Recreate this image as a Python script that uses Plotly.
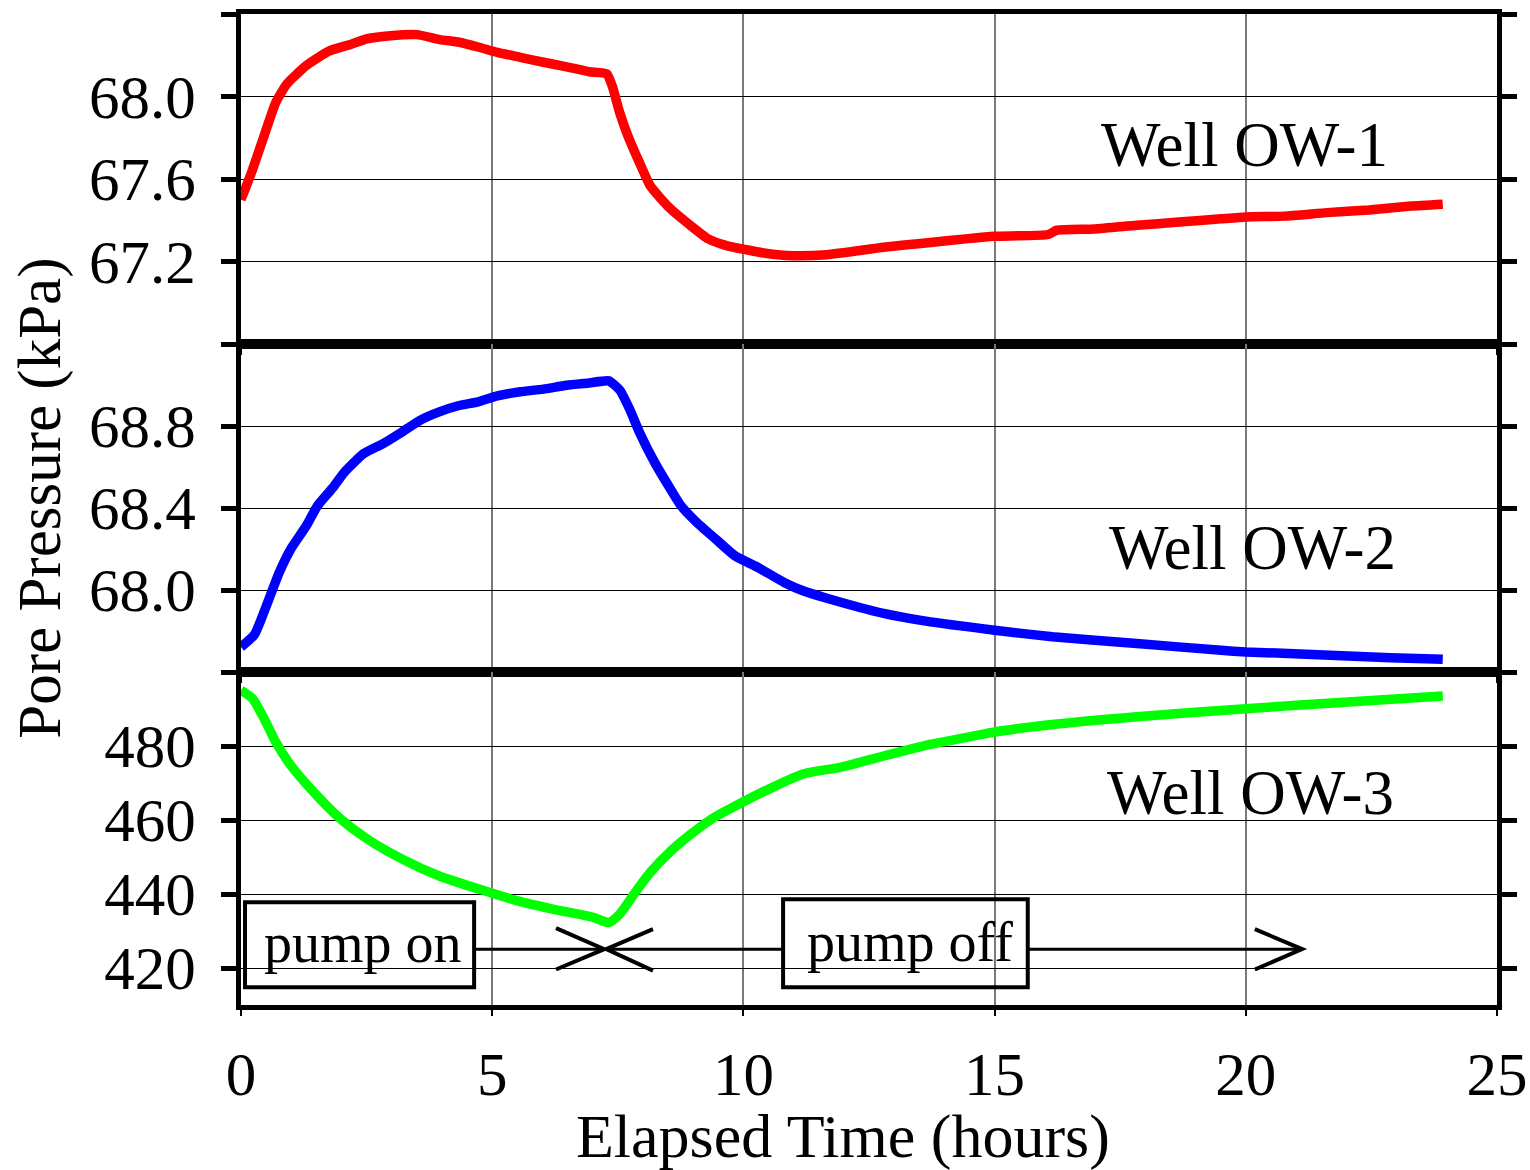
import plotly.graph_objects as go
from plotly.subplots import make_subplots

# ---------------- data ----------------
t_ow1 = [0.0, 0.23, 0.46, 0.69, 0.91, 1.30, 1.75, 2.21, 2.51, 2.97, 3.50, 3.96, 4.34, 4.72,
         5.10, 5.56, 6.02, 6.48, 6.93, 7.28, 7.39, 7.54, 7.70, 7.93, 8.15, 8.53, 8.92, 9.30,
         9.68, 10.06, 10.44, 10.98, 11.66, 12.79, 13.63, 14.47, 15.0, 16.07, 16.24, 16.99,
         17.83, 18.67, 19.51, 20.0, 20.77, 21.61, 22.45, 23.29, 23.92]
p_ow1 = [67.50, 67.646, 67.81, 67.97, 68.06, 68.15, 68.22, 68.255, 68.28, 68.295, 68.30,
         68.276, 68.263, 68.24, 68.214, 68.19, 68.166, 68.144, 68.12, 68.11, 68.05, 67.92,
         67.81, 67.68, 67.565, 67.46, 67.38, 67.31, 67.276, 67.257, 67.24, 67.228, 67.233,
         67.269, 67.29, 67.311, 67.322, 67.331, 67.352, 67.358, 67.376, 67.391, 67.407,
         67.416, 67.42, 67.437, 67.45, 67.469, 67.478]

t_ow2 = [0.0, 0.27, 0.50, 0.76, 0.99, 1.30, 1.52, 1.83, 2.06, 2.44, 2.82, 3.20, 3.58, 3.96,
         4.34, 4.72, 5.10, 5.56, 6.02, 6.48, 6.93, 7.32, 7.54, 7.73, 7.93, 8.23, 8.53, 8.76,
         9.07, 9.45, 9.83, 10.29, 10.82, 11.20, 11.66, 12.79, 13.63, 15.0, 16.15, 17.83,
         19.51, 20.0, 21.2, 22.88, 23.92]
p_ow2 = [67.722, 67.783, 67.92, 68.085, 68.20, 68.313, 68.41, 68.50, 68.575, 68.665, 68.713,
         68.77, 68.83, 68.87, 68.90, 68.918, 68.947, 68.967, 68.98, 68.999, 69.01, 69.02,
         68.975, 68.885, 68.77, 68.624, 68.50, 68.41, 68.33, 68.248, 68.167, 68.11, 68.036,
         67.995, 67.96, 67.886, 67.848, 67.804, 67.772, 67.739, 67.706, 67.698, 67.687,
         67.67, 67.662]

t_ow3 = [0.0, 0.23, 0.46, 0.69, 0.99, 1.45, 1.98, 2.51, 3.20, 3.96, 4.72, 5.49, 6.25, 7.01,
         7.32, 7.54, 7.85, 8.15, 8.53, 8.92, 9.37, 9.98, 10.59, 11.20, 11.95, 12.79, 13.63,
         14.47, 15.0, 16.15, 17.83, 20.0, 22.03, 23.92]
p_ow3 = [495.1, 492.8, 487.4, 481.1, 474.8, 467.5, 460.3, 454.9, 449.5, 444.8, 441.4, 438.2,
         435.8, 433.7, 432.3, 434.6, 440.5, 445.9, 451.3, 455.8, 460.3, 464.8, 468.9, 472.5,
         474.3, 477.3, 480.2, 482.4, 483.8, 485.8, 487.9, 490.1, 491.9, 493.5]

x_ticks = [0, 5, 10, 15, 20, 25]
y1_ticks = [66.8, 67.2, 67.6, 68.0, 68.4]
y1_text = ["", "67.2", "67.6", "68.0", ""]
y2_ticks = [67.6, 68.0, 68.4, 68.8, 69.2]
y2_text = ["", "68.0", "68.4", "68.8", ""]
y3_ticks = [420, 440, 460, 480, 500]
y3_text = ["420", "440", "460", "480", ""]

well_labels = ["Well OW-1", "Well OW-2", "Well OW-3"]
FONT = "Liberation Serif, Times New Roman, serif"

fig = make_subplots(rows=3, cols=1, shared_xaxes=True, vertical_spacing=0,
                    row_heights=[0.333, 0.331, 0.336])

fig.add_trace(go.Scatter(x=t_ow1, y=p_ow1, mode="lines",
                         line=dict(color="#ff0000", width=9.5, shape="spline", smoothing=0.5),
                         showlegend=False), row=1, col=1)
fig.add_trace(go.Scatter(x=t_ow2, y=p_ow2, mode="lines",
                         line=dict(color="#0000ff", width=9.5, shape="spline", smoothing=0.5),
                         showlegend=False), row=2, col=1)
fig.add_trace(go.Scatter(x=t_ow3, y=p_ow3, mode="lines",
                         line=dict(color="#00ff00", width=9.5, shape="spline", smoothing=0.6),
                         showlegend=False), row=3, col=1)

common_x = dict(range=[0, 25], tickvals=x_ticks, showgrid=True, gridcolor="#7a7a7a",
                gridwidth=1.5, zeroline=False, showline=True, linewidth=5, linecolor="black",
                mirror=True, ticks="outside", ticklen=6, tickwidth=2, tickcolor="black",
                automargin=False)
for r in (1, 2, 3):
    fig.update_xaxes(common_x, row=r, col=1)
fig.update_xaxes(showticklabels=True, ticklabelstandoff=6,
                 tickfont=dict(family=FONT, size=61, color="black"), row=3, col=1)

common_y = dict(showgrid=True, gridcolor="black", gridwidth=1, zeroline=False,
                showline=True, linewidth=5, linecolor="black", mirror="ticks",
                ticks="outside", ticklen=15, tickwidth=5, tickcolor="black",
                ticklabelstandoff=13, automargin=False,
                tickfont=dict(family=FONT, size=61, color="black"))
fig.update_yaxes(common_y, range=[66.8, 68.4], tickvals=y1_ticks, ticktext=y1_text, row=1, col=1)
fig.update_yaxes(common_y, range=[67.6, 69.2], tickvals=y2_ticks, ticktext=y2_text, row=2, col=1)
fig.update_yaxes(common_y, range=[410, 500], tickvals=y3_ticks, ticktext=y3_text, row=3, col=1)

ann = []
for lbl, xp, yp in zip(well_labels, [0.799, 0.805, 0.804], [0.868, 0.461, 0.214]):
    ann.append(dict(text=lbl, xref="paper", yref="paper", x=xp, y=yp, showarrow=False,
                    xanchor="center", yanchor="middle",
                    font=dict(family=FONT, size=63, color="black")))
ann.append(dict(text="Pore Pressure (kPa)", xref="paper", yref="paper", x=-0.16, y=0.511,
                textangle=-90, showarrow=False, xanchor="center", yanchor="middle",
                font=dict(family=FONT, size=61, color="black")))
ann.append(dict(text="Elapsed Time (hours)", xref="paper", yref="paper", x=0.479, y=-0.133,
                showarrow=False, xanchor="center", yanchor="middle",
                font=dict(family=FONT, size=62, color="black")))
ann.append(dict(text="pump on", xref="x3", yref="y3", x=2.43, y=426.7, showarrow=False,
                xanchor="center", yanchor="middle", font=dict(family=FONT, size=56, color="black")))
ann.append(dict(text="pump off", xref="x3", yref="y3", x=13.32, y=427.0, showarrow=False,
                xanchor="center", yanchor="middle", font=dict(family=FONT, size=56, color="black")))

shp = []
L = dict(color="black", width=4)
L2 = dict(color="black", width=3)
# boxes
shp.append(dict(type="rect", xref="x3", yref="y3", x0=0.08, x1=4.64, y0=414.8, y1=437.8, line=L))
shp.append(dict(type="rect", xref="x3", yref="y3", x0=10.79, x1=15.66, y0=414.8, y1=438.6, line=L))
# arrows
shp.append(dict(type="line", xref="x3", yref="y3", x0=4.64, x1=7.23, y0=425.1, y1=425.1, line=L2))
shp.append(dict(type="path", xref="x3", yref="y3",
                path="M 6.27,430.8 L 7.23,425.1 L 6.27,419.6", line=L))
shp.append(dict(type="line", xref="x3", yref="y3", x0=7.27, x1=10.79, y0=425.1, y1=425.1, line=L2))
shp.append(dict(type="path", xref="x3", yref="y3",
                path="M 8.20,430.5 L 7.27,425.1 L 8.20,419.3", line=L))
shp.append(dict(type="line", xref="x3", yref="y3", x0=15.66, x1=21.12, y0=425.1, y1=425.1, line=L2))
shp.append(dict(type="path", xref="x3", yref="y3",
                path="M 20.18,430.5 L 21.12,425.1 L 20.18,419.6", line=L))

fig.update_layout(width=1530, height=1170, margin=dict(l=241, r=33, t=14, b=165),
                  paper_bgcolor="white", plot_bgcolor="white", annotations=ann, shapes=shp,
                  font=dict(family=FONT, color="black"))

fig.write_html("out.html")
